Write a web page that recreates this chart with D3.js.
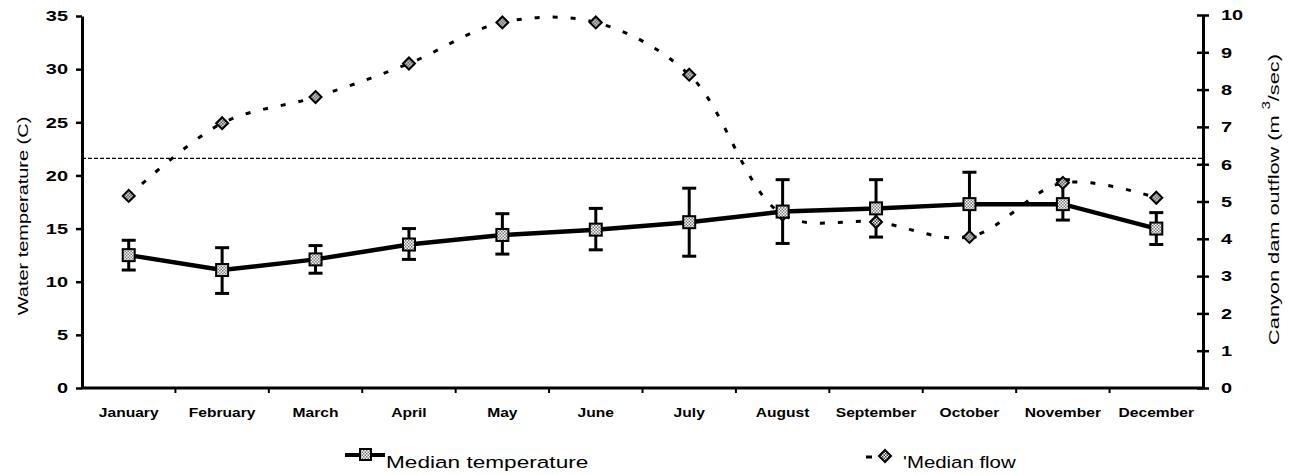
<!DOCTYPE html>
<html>
<head>
<meta charset="utf-8">
<script src="https://cdn.jsdelivr.net/npm/d3@7"></script>
<style>
  body { margin: 0; background: #fff; }
  text { font-family: "Liberation Sans", Arial, sans-serif; fill: #000; }
</style>
</head>
<body>
<script>
// data
var months = ["January", "February", "March", "April", "May", "June", "July",
  "August", "September", "October", "November", "December"];
var medianTemp = [12.5, 11.1, 12.1, 13.5, 14.4, 14.9, 15.6, 16.6, 16.9, 17.3, 17.3, 15.0];
var tempHigh = [13.9, 13.2, 13.4, 15.0, 16.4, 16.9, 18.8, 19.6, 19.6, 20.3, 19.6, 16.5];
var tempLow = [11.1, 8.9, 10.8, 12.1, 12.6, 13.0, 12.4, 13.6, 14.2, 14.2, 15.8, 13.5];
var medianFlow = [5.15, 7.1, 7.8, 8.7, 9.8, 9.8, 8.4, 4.65, 4.45, 4.05, 5.5, 5.1];
var tempTicks = [0, 5, 10, 15, 20, 25, 30, 35];
var flowTicks = [0, 1, 2, 3, 4, 5, 6, 7, 8, 9, 10];
var thresholdTemp = 21.6;

var W = 1293, H = 475;
var margin = {top: 16, right: 90, bottom: 87, left: 82};
var STRETCH = 1.33; // the text in the scan is wide

var svg = d3.select("body").append("svg")
  .attr("width", W)
  .attr("height", H);

var defs = svg.append("defs");
function checker(id, c) {
  var p = defs.append("pattern")
    .attr("id", id)
    .attr("width", 3).attr("height", 3)
    .attr("patternUnits", "userSpaceOnUse");
  p.append("rect").attr("width", 3).attr("height", 3).attr("fill", "#fff");
  p.append("rect").attr("width", 1.5).attr("height", 1.5).attr("fill", c);
  p.append("rect").attr("x", 1.5).attr("y", 1.5).attr("width", 1.5).attr("height", 1.5).attr("fill", c);
}
checker("check", "#777");
checker("checkDark", "#333");

var x = d3.scaleBand()
  .domain(months)
  .range([margin.left, W - margin.right]);

var yT = d3.scaleLinear()
  .domain([0, 35])
  .range([H - margin.bottom, margin.top]);

var yF = d3.scaleLinear()
  .domain([0, 10])
  .range([H - margin.bottom, margin.top - 1]);

function cx(m) { return x(m) + x.bandwidth() / 2; }

// threshold dashed line
svg.append("line")
  .attr("x1", margin.left).attr("x2", W - margin.right)
  .attr("y1", yT(thresholdTemp)).attr("y2", yT(thresholdTemp))
  .attr("stroke", "#000").attr("stroke-width", 1.3)
  .attr("stroke-dasharray", "4,2");

// flow line (smoothed, dashed)
var flowLine = d3.line()
  .x(function(d, i) { return cx(months[i]); })
  .y(function(d) { return yF(d); })
  .curve(d3.curveCatmullRom.alpha(0.5));

svg.append("path")
  .datum(medianFlow)
  .attr("fill", "none")
  .attr("stroke", "#000")
  .attr("stroke-width", 3)
  .attr("stroke-dasharray", "5,13")
  .attr("d", flowLine);

// temperature line
var tempLine = d3.line()
  .x(function(d, i) { return cx(months[i]); })
  .y(function(d) { return yT(d); });

svg.append("path")
  .datum(medianTemp)
  .attr("fill", "none")
  .attr("stroke", "#000")
  .attr("stroke-width", 4.5)
  .attr("d", tempLine);

// error bars
var eb = svg.append("g").attr("class", "errorbars")
  .selectAll("g").data(months).enter().append("g");
eb.append("line")
  .attr("x1", function(d) { return cx(d); })
  .attr("x2", function(d) { return cx(d); })
  .attr("y1", function(d, i) { return yT(tempHigh[i]); })
  .attr("y2", function(d, i) { return yT(tempLow[i]); })
  .attr("stroke", "#000").attr("stroke-width", 3);
eb.append("line")
  .attr("x1", function(d) { return cx(d) - 7; })
  .attr("x2", function(d) { return cx(d) + 7; })
  .attr("y1", function(d, i) { return yT(tempHigh[i]); })
  .attr("y2", function(d, i) { return yT(tempHigh[i]); })
  .attr("stroke", "#000").attr("stroke-width", 3);
eb.append("line")
  .attr("x1", function(d) { return cx(d) - 7; })
  .attr("x2", function(d) { return cx(d) + 7; })
  .attr("y1", function(d, i) { return yT(tempLow[i]); })
  .attr("y2", function(d, i) { return yT(tempLow[i]); })
  .attr("stroke", "#000").attr("stroke-width", 3);

// flow markers
svg.append("g").selectAll("path").data(medianFlow).enter().append("path")
  .attr("transform", function(d, i) { return "translate(" + cx(months[i]) + "," + yF(d) + ")"; })
  .attr("d", "M0,-6L6,0L0,6L-6,0Z")
  .attr("fill", "url(#checkDark)")
  .attr("stroke", "#000").attr("stroke-width", 2);

// temperature markers
svg.append("g").selectAll("rect").data(medianTemp).enter().append("rect")
  .attr("x", function(d, i) { return cx(months[i]) - 6; })
  .attr("y", function(d) { return yT(d) - 6; })
  .attr("width", 12).attr("height", 12)
  .attr("fill", "url(#check)")
  .attr("stroke", "#000").attr("stroke-width", 2);

// axes
var xAxis = svg.append("g")
  .attr("transform", "translate(0," + (H - margin.bottom) + ")")
  .call(d3.axisBottom(x).tickSize(0).tickPadding(20));
xAxis.select(".domain").attr("stroke-width", 3).attr("d", "M" + margin.left + ",0H" + (W - margin.right));
xAxis.selectAll("text")
  .style("font-size", "13px").style("font-weight", "bold")
  .attr("transform", "scale(1.2,1)");
xAxis.selectAll(".sep").data(months.slice(1)).enter().append("line")
  .attr("class", "sep")
  .attr("x1", function(d) { return x(d); }).attr("x2", function(d) { return x(d); })
  .attr("y1", 0).attr("y2", 5)
  .attr("stroke", "#000").attr("stroke-width", 2);

var yAxisL = svg.append("g")
  .attr("transform", "translate(" + margin.left + ",0)")
  .call(d3.axisLeft(yT).tickValues(tempTicks).tickSize(6).tickSizeOuter(0));
yAxisL.select(".domain").attr("stroke-width", 3);
yAxisL.selectAll(".tick line").attr("stroke-width", 2.5);
yAxisL.selectAll("text")
  .style("font-size", "15px").style("font-weight", "bold")
  .attr("x", -14 / STRETCH)
  .attr("transform", "scale(" + STRETCH + ",1)");

var yAxisR = svg.append("g")
  .attr("transform", "translate(" + (W - margin.right) + ",0)")
  .call(d3.axisRight(yF).tickValues(flowTicks).tickSize(6).tickSizeOuter(0));
yAxisR.select(".domain").attr("stroke-width", 3);
yAxisR.selectAll(".tick line").attr("x1", -6).attr("stroke-width", 2.5);
yAxisR.selectAll("text")
  .style("font-size", "15px").style("font-weight", "bold")
  .attr("x", 18 / STRETCH)
  .attr("transform", "scale(" + STRETCH + ",1)");

// axis titles
svg.append("text")
  .attr("transform", "translate(28," + (yT(17.5) + 14) + ") rotate(-90) scale(" + STRETCH + ",1)")
  .attr("text-anchor", "middle")
  .style("font-size", "15px")
  .text("Water temperature (C)");

var rt = svg.append("text")
  .attr("transform", "translate(1279," + (yF(5) - 2) + ") rotate(-90) scale(1.45,1)")
  .attr("text-anchor", "middle")
  .style("font-size", "15px");
rt.append("tspan").text("Canyon dam outflow (m   ");
rt.append("tspan").attr("dy", -9).style("font-size", "10px").text("3");
rt.append("tspan").attr("dy", 9).text("/sec)");

// legend
var lg = svg.append("g");
lg.append("line").attr("x1", 345).attr("x2", 385).attr("y1", 455).attr("y2", 455)
  .attr("stroke", "#000").attr("stroke-width", 4);
lg.append("rect").attr("x", 360).attr("y", 449).attr("width", 11).attr("height", 11)
  .attr("fill", "url(#check)").attr("stroke", "#000").attr("stroke-width", 2);
lg.append("text")
  .attr("transform", "translate(386,468) scale(1.33,1)")
  .style("font-size", "17px").text("Median temperature");

lg.append("line").attr("x1", 866).attr("x2", 872).attr("y1", 457).attr("y2", 457)
  .attr("stroke", "#000").attr("stroke-width", 3);
lg.append("path").attr("transform", "translate(885,456)")
  .attr("d", "M0,-6L6,0L0,6L-6,0Z")
  .attr("fill", "url(#checkDark)").attr("stroke", "#000").attr("stroke-width", 2);
lg.append("text")
  .attr("transform", "translate(903,468) scale(1.2,1)")
  .style("font-size", "17px").text("'Median flow");
</script>
</body>
</html>
